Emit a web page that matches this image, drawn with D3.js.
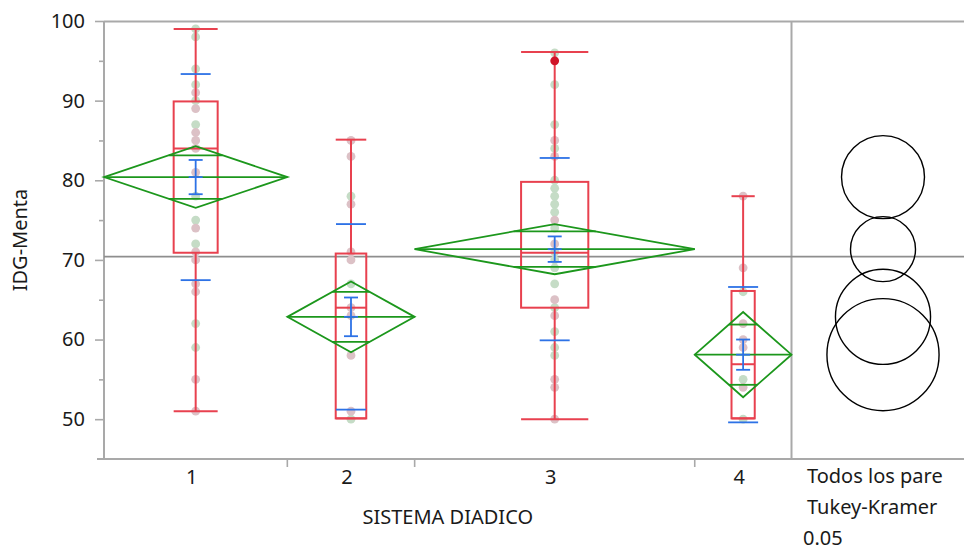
<!DOCTYPE html>
<html>
<head>
<meta charset="utf-8">
<script src="https://cdn.jsdelivr.net/npm/d3@7"></script>
<style>
  html, body { margin: 0; padding: 0; background: #fff; }
  svg { display: block; font-family: "Noto Sans", "Open Sans", sans-serif; }
</style>
</head>
<body>
<svg id="chart" width="964" height="550"></svg>
<script>
// Groups of SISTEMA DIADICO and their sample sizes (sizes set the group widths)
const groups = ["1", "2", "3", "4"];
const groupN = [36, 25, 55, 19];

// Group summary statistics for IDG-Menta
const means = [80.4, 62.85, 71.35, 58.1];
const ciHalf = [3.87, 4.45, 3.15, 5.35];        // 95% CI half-width (means diamonds)
const seHalf = [2.15, 2.43, 1.6, 1.9];          // std error of the mean
const sdHalf = [12.94, 11.65, 11.45, 8.5];      // std deviation
const qMin = [51.0, 50.1, 50.0, 50.1];
const q1 = [70.9, 50.1, 64.0, 50.1];
const median = [84.0, 64.0, 70.9, 56.9];
const q3 = [89.9, 70.8, 79.8, 66.1];
const qMax = [99.0, 85.1, 96.1, 78.0];
const tukeyRadius = [5.21, 5.97, 4.08, 7.04];   // comparison circles, in IDG units
const grandMean = 70.4;

// Individual observations by group, split by marker colour
const pointsGreen = [
  [99, 98, 94, 92, 90, 87, 78, 75, 72, 62, 59],
  [78, 67, 50],
  [96, 92, 87, 84, 80, 79, 78, 77, 76, 74, 71, 70, 69, 67, 64, 61, 59, 58],
  [66, 55, 50]
];
const pointsPink = [
  [91, 89, 86, 85, 84, 81, 74, 71, 70, 67, 66, 55, 51],
  [85, 83, 77, 71, 70, 64, 63, 58, 51],
  [85, 83, 75, 72, 65, 63, 55, 54, 50],
  [78, 69, 62, 60, 59, 54]
];
const highlighted = [[], [], [95], []];

const yTicks = [50, 60, 70, 80, 90, 100];
const yMinorTicks = [55, 65, 75, 85, 95];
const yTitle = "IDG-Menta";
const xTitle = "SISTEMA DIADICO";
const compareLines = ["Todos los pare", "Tukey-Kramer", "0.05"];

// ---- layout ----
const W = 964, H = 550;
const plotL = 104, plotR = 791.5, plotT = 21, plotB = 459;
const panelCx = 883;

const COL = {
  axis: "#a9a9a9",
  ref: "#8e8e8e",
  red: "#e8414f",
  green: "#1c971c",
  blue: "#2d72e6",
  ptGreen: "#c5dcc6",
  ptPink: "#dcc1c6",
  ptDark: "#d01428",
  text: "#1a1a1a"
};

const svg = d3.select("#chart");

const y = d3.scaleLinear().domain([45, 100]).range([plotB, plotT]);

// Group extents along x, proportional to sample size
const totalN = d3.sum(groupN);
const xN = d3.scaleLinear().domain([0, totalN]).range([plotL, plotR]);
const cum = [0];
groupN.forEach((n, i) => cum.push(cum[i] + n));
const G = groups.map((g, i) => {
  const x0 = xN(cum[i]), x1 = xN(cum[i + 1]);
  return { name: g, i, x0, x1, cx: (x0 + x1) / 2, w: x1 - x0 };
});

// ---- frame ----
const frame = svg.append("g");
frame.append("line").attr("x1", plotL).attr("x2", W).attr("y1", plotT + 0.5).attr("y2", plotT + 0.5)
  .attr("stroke", COL.axis).attr("stroke-width", 2);
frame.append("line").attr("x1", 97).attr("x2", W).attr("y1", plotB).attr("y2", plotB)
  .attr("stroke", COL.axis).attr("stroke-width", 2);
frame.append("line").attr("x1", plotR).attr("x2", plotR).attr("y1", plotT).attr("y2", plotB)
  .attr("stroke", COL.axis).attr("stroke-width", 2);

// y axis
const yAxis = svg.append("g").attr("transform", `translate(${plotL},0)`)
  .call(d3.axisLeft(y).tickValues(yTicks).tickSize(9).tickPadding(10).tickFormat(d3.format("d")));
yAxis.select(".domain").attr("stroke", COL.axis).attr("stroke-width", 2)
  .attr("d", `M0,${plotT}V${plotB}`);
yAxis.selectAll(".tick line").attr("stroke", COL.axis).attr("stroke-width", 1.6);
yAxis.selectAll(".tick text").attr("font-size", 20).attr("fill", COL.text)
  .attr("font-family", "'Noto Sans', sans-serif");
const yMinor = svg.append("g").attr("transform", `translate(${plotL},0)`)
  .call(d3.axisLeft(y).tickValues(yMinorTicks).tickSize(5).tickFormat(""));
yMinor.select(".domain").remove();
yMinor.selectAll(".tick line").attr("stroke", COL.axis).attr("stroke-width", 1.6);

// x axis: boundary ticks between groups and group labels
svg.append("g").selectAll("line").data(G.slice(0, -1)).join("line")
  .attr("x1", d => d.x1).attr("x2", d => d.x1)
  .attr("y1", plotB).attr("y2", plotB + 8)
  .attr("stroke", COL.axis).attr("stroke-width", 1.6);
svg.append("g").selectAll("text").data(G).join("text")
  .attr("x", d => d.cx - 4).attr("y", 484)
  .attr("text-anchor", "middle").attr("font-size", 20).attr("fill", COL.text)
  .text(d => d.name);

// titles
svg.append("text").attr("x", (plotL + plotR) / 2).attr("y", 524)
  .attr("text-anchor", "middle").attr("font-size", 20).attr("fill", COL.text).text(xTitle);
svg.append("text").attr("transform", `translate(27,${(plotT + plotB) / 2}) rotate(-90)`)
  .attr("text-anchor", "middle").attr("font-size", 20).attr("fill", COL.text).text(yTitle);

// comparison panel caption
svg.append("g").selectAll("text").data(compareLines).join("text")
  .attr("x", (d, i) => i === 2 ? 803 : 807)
  .attr("y", (d, i) => 483 + i * 31)
  .attr("font-size", 20).attr("fill", COL.text).text(d => d);

// grand mean reference line
svg.append("line").attr("x1", plotL).attr("x2", W)
  .attr("y1", y(grandMean)).attr("y2", y(grandMean))
  .attr("stroke", COL.ref).attr("stroke-width", 1.8);

// ---- observations ----
const ptLayer = svg.append("g");
G.forEach(g => {
  const pts = [
    ...pointsGreen[g.i].map(v => ({ v, c: COL.ptGreen })),
    ...pointsPink[g.i].map(v => ({ v, c: COL.ptPink })),
  ];
  ptLayer.append("g").selectAll("circle").data(pts).join("circle")
    .attr("cx", g.cx).attr("cy", d => y(d.v)).attr("r", 4.4).attr("fill", d => d.c);
});

// ---- quantile boxes ----
const boxLayer = svg.append("g").attr("fill", "none").attr("stroke", COL.red).attr("stroke-width", 2);
G.forEach(g => {
  const i = g.i, bw = g.w * 0.24, bx0 = g.cx - bw / 2, bx1 = g.cx + bw / 2;
  boxLayer.append("line").attr("x1", g.cx).attr("x2", g.cx).attr("y1", y(qMax[i])).attr("y2", y(q3[i]));
  boxLayer.append("line").attr("x1", g.cx).attr("x2", g.cx).attr("y1", y(q1[i])).attr("y2", y(qMin[i]));
  boxLayer.append("line").attr("x1", bx0).attr("x2", bx1).attr("y1", y(qMax[i])).attr("y2", y(qMax[i]));
  boxLayer.append("line").attr("x1", bx0).attr("x2", bx1).attr("y1", y(qMin[i])).attr("y2", y(qMin[i]));
  boxLayer.append("rect").attr("x", bx0).attr("y", y(q3[i])).attr("width", bw)
    .attr("height", y(q1[i]) - y(q3[i]));
  boxLayer.append("line").attr("x1", bx0).attr("x2", bx1).attr("y1", y(median[i])).attr("y2", y(median[i]));
});

// ---- means diamonds ----
const dLayer = svg.append("g").attr("fill", "none").attr("stroke", COL.green).attr("stroke-width", 1.8);
G.forEach(g => {
  const i = g.i, m = means[i], h = ciHalf[i];
  dLayer.append("path").attr("d", d3.line()([
    [g.x0, y(m)], [g.cx, y(m + h)], [g.x1, y(m)], [g.cx, y(m - h)]
  ]) + "Z");
  dLayer.append("line").attr("x1", g.x0).attr("x2", g.x1).attr("y1", y(m)).attr("y2", y(m));
  const o = h / Math.SQRT2, frac = 1 - o / h, half = (g.w / 2) * frac;
  [m + o, m - o].forEach(v => {
    dLayer.append("line").attr("x1", g.cx - half).attr("x2", g.cx + half)
      .attr("y1", y(v)).attr("y2", y(v));
  });
});

// ---- mean error bars (std err and std dev) ----
const bLayer = svg.append("g").attr("stroke", COL.blue).attr("stroke-width", 1.8);
G.forEach(g => {
  const i = g.i, m = means[i];
  bLayer.append("line").attr("x1", g.cx).attr("x2", g.cx)
    .attr("y1", y(m + seHalf[i])).attr("y2", y(m - seHalf[i]));
  [m + seHalf[i], m, m - seHalf[i]].forEach(v => {
    bLayer.append("line").attr("x1", g.cx - 7).attr("x2", g.cx + 7).attr("y1", y(v)).attr("y2", y(v));
  });
  [m + sdHalf[i], m - sdHalf[i]].forEach(v => {
    bLayer.append("line").attr("x1", g.cx - 15).attr("x2", g.cx + 15).attr("y1", y(v)).attr("y2", y(v));
  });
});

// highlighted observation
G.forEach(g => {
  svg.append("g").selectAll("circle").data(highlighted[g.i]).join("circle")
    .attr("cx", g.cx).attr("cy", d => y(d)).attr("r", 4.4).attr("fill", COL.ptDark);
});

// ---- Tukey-Kramer comparison circles ----
const pxPerUnit = y(0) - y(1);
svg.append("g").selectAll("circle").data(G).join("circle")
  .attr("cx", panelCx).attr("cy", d => y(means[d.i]))
  .attr("r", d => tukeyRadius[d.i] * pxPerUnit)
  .attr("fill", "none").attr("stroke", "#000").attr("stroke-width", 1.4);
</script>
</body>
</html>
